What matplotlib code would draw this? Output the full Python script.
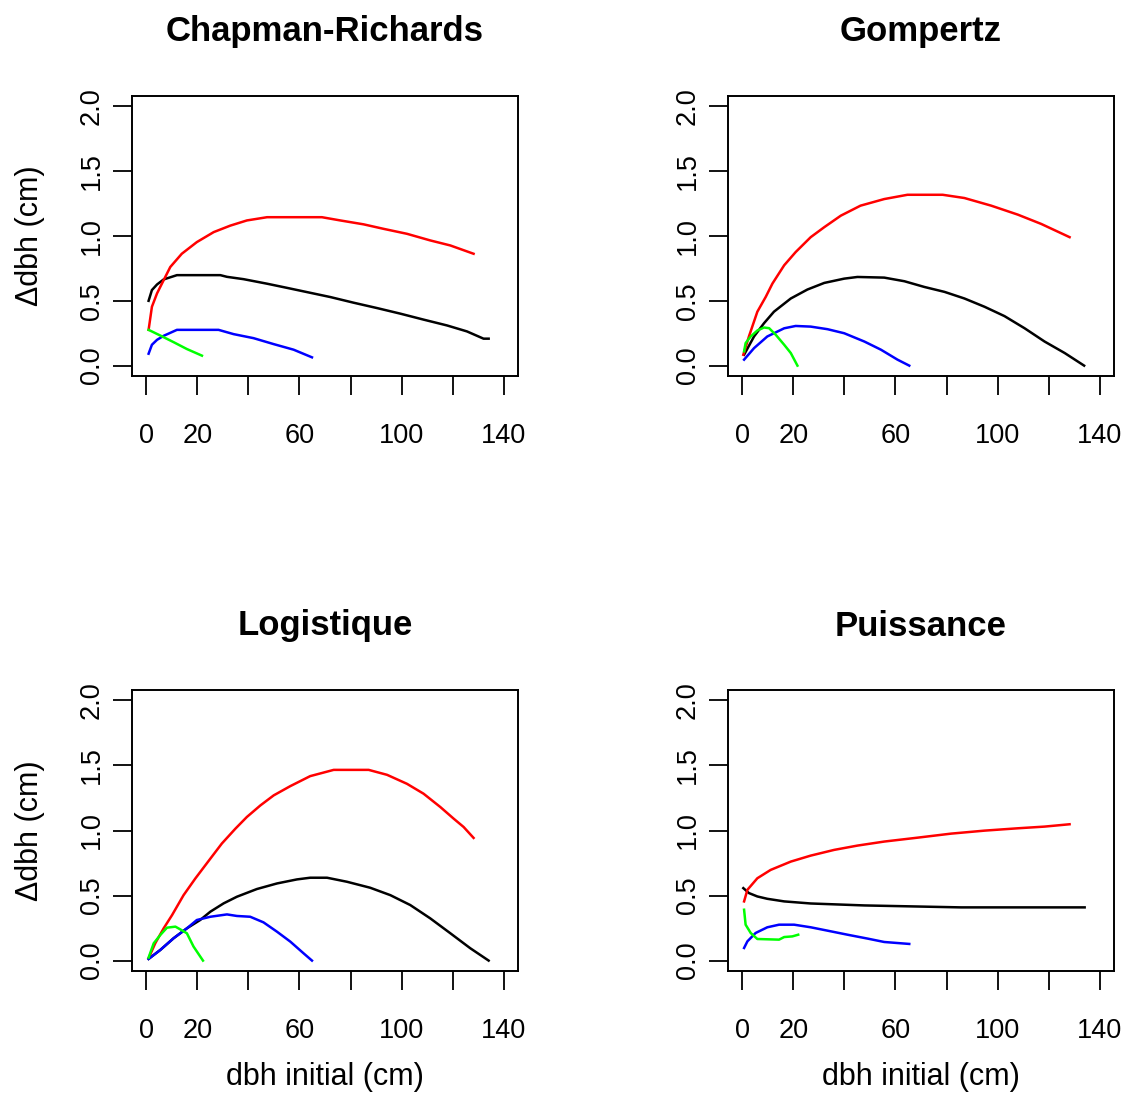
import matplotlib
matplotlib.use("Agg")
import matplotlib.pyplot as plt

plt.rcParams['font.family'] = ['Liberation Sans', 'DejaVu Sans']

# Values (dbh initial in cm, delta dbh in cm)

# Chapman-Richards
cr_black_x = [0.9, 2.2, 4.2, 6.8, 12.0, 29.0, 31.6, 38.1, 47.3, 55.1, 63.0, 72.1, 81.3, 90.4, 99.5, 108.6, 117.8, 125.6, 132.1, 134.1]
cr_black_y = [0.50, 0.583, 0.626, 0.665, 0.698, 0.698, 0.685, 0.667, 0.632, 0.60, 0.567, 0.529, 0.485, 0.444, 0.401, 0.355, 0.31, 0.264, 0.208, 0.208]
cr_red_x = [0.9, 2.2, 4.2, 6.1, 9.4, 13.9, 19.8, 26.4, 32.9, 39.4, 47.3, 68.8, 76.0, 85.1, 93.0, 102.1, 111.2, 119.1, 128.2]
cr_red_y = [0.276, 0.454, 0.557, 0.632, 0.761, 0.863, 0.953, 1.03, 1.08, 1.12, 1.145, 1.145, 1.12, 1.09, 1.055, 1.017, 0.966, 0.927, 0.863]
cr_blue_x = [0.9, 2.2, 4.2, 6.8, 12.0, 28.3, 34.2, 42.0, 49.9, 57.7, 64.9]
cr_blue_y = [0.092, 0.161, 0.199, 0.23, 0.276, 0.276, 0.243, 0.212, 0.166, 0.123, 0.064]
cr_green_x = [0.9, 5.5, 10.7, 15.9, 21.8]
cr_green_y = [0.276, 0.232, 0.181, 0.128, 0.077]

# Gompertz
go_black_x = [0.7, 4.6, 8.5, 12.4, 19.0, 25.5, 32.1, 39.9, 45.1, 55.6, 63.5, 71.3, 79.2, 87.0, 94.9, 102.7, 110.6, 118.4, 126.3, 133.9]
go_black_y = [0.084, 0.225, 0.327, 0.416, 0.518, 0.587, 0.638, 0.671, 0.684, 0.679, 0.651, 0.607, 0.569, 0.518, 0.454, 0.382, 0.288, 0.186, 0.097, 0.0]
go_red_x = [0.4, 2.6, 5.9, 9.2, 11.8, 16.4, 20.9, 26.8, 32.1, 38.6, 46.3, 55.6, 64.7, 78.5, 87.0, 97.5, 107.9, 117.1, 128.2]
go_red_y = [0.084, 0.225, 0.416, 0.531, 0.633, 0.774, 0.876, 0.991, 1.068, 1.157, 1.234, 1.285, 1.318, 1.318, 1.293, 1.234, 1.165, 1.093, 0.991]
go_blue_x = [0.7, 4.6, 9.8, 16.4, 20.9, 26.8, 33.4, 39.9, 47.8, 54.3, 60.8, 65.4]
go_blue_y = [0.046, 0.135, 0.225, 0.288, 0.306, 0.301, 0.281, 0.25, 0.186, 0.123, 0.046, 0.0]
go_green_x = [0.7, 1.3, 3.3, 5.9, 8.5, 10.5, 13.1, 16.4, 19.0, 21.6]
go_green_y = [0.11, 0.174, 0.225, 0.271, 0.294, 0.289, 0.238, 0.161, 0.097, 0.0]

# Logistique
lo_black_x = [0.9, 5.5, 10.7, 15.9, 21.1, 25.1, 30.3, 35.5, 43.3, 51.2, 59.0, 64.2, 70.8, 78.6, 87.7, 95.6, 103.4, 111.2, 119.1, 126.9, 134.1]
lo_black_y = [0.013, 0.082, 0.172, 0.248, 0.312, 0.376, 0.44, 0.491, 0.55, 0.593, 0.624, 0.637, 0.637, 0.606, 0.56, 0.503, 0.427, 0.325, 0.21, 0.095, 0.0]
lo_red_x = [0.9, 3.5, 6.8, 10.1, 14.6, 19.2, 25.1, 29.6, 34.9, 39.4, 44.7, 49.9, 56.4, 64.2, 73.4, 87.1, 94.3, 102.1, 108.6, 115.2, 120.4, 124.3, 128.2]
lo_red_y = [0.018, 0.133, 0.248, 0.35, 0.503, 0.631, 0.784, 0.9, 1.014, 1.104, 1.193, 1.27, 1.341, 1.418, 1.466, 1.466, 1.428, 1.359, 1.283, 1.18, 1.091, 1.027, 0.943]
lo_blue_x = [0.9, 5.5, 10.7, 15.9, 19.8, 25.1, 31.6, 35.5, 40.7, 45.9, 51.2, 56.4, 61.6, 64.9]
lo_blue_y = [0.013, 0.082, 0.172, 0.248, 0.312, 0.337, 0.355, 0.343, 0.337, 0.294, 0.222, 0.146, 0.056, 0.0]
lo_green_x = [0.9, 2.9, 5.5, 8.1, 11.4, 13.3, 15.9, 18.5, 22.2]
lo_green_y = [0.023, 0.133, 0.197, 0.253, 0.261, 0.24, 0.21, 0.108, 0.0]

# Puissance
pu_black_x = [0.4, 2.6, 5.9, 9.8, 16.4, 26.8, 47.8, 85.7, 134.1]
pu_black_y = [0.557, 0.519, 0.493, 0.475, 0.455, 0.439, 0.424, 0.409, 0.409]
pu_red_x = [0.7, 2.0, 5.9, 11.1, 19.0, 26.8, 36.0, 45.1, 55.6, 68.7, 81.8, 94.9, 107.9, 118.4, 128.2]
pu_red_y = [0.455, 0.544, 0.633, 0.697, 0.761, 0.807, 0.851, 0.884, 0.915, 0.945, 0.976, 0.999, 1.017, 1.03, 1.048]
pu_blue_x = [0.7, 2.0, 5.2, 9.8, 14.4, 20.3, 26.8, 33.4, 41.2, 49.1, 55.6, 65.4]
pu_blue_y = [0.097, 0.148, 0.212, 0.256, 0.276, 0.276, 0.256, 0.23, 0.199, 0.169, 0.143, 0.128]
pu_green_x = [0.7, 1.3, 3.3, 5.9, 14.4, 16.4, 19.6, 21.9]
pu_green_y = [0.391, 0.276, 0.212, 0.166, 0.161, 0.181, 0.186, 0.199]

titles = ["Chapman-Richards", "Gompertz", "Logistique", "Puissance"]
x_ticks = [0, 20, 40, 60, 80, 100, 120, 140]
x_ticklabels = ["0", "20", "", "60", "", "100", "", "140"]
y_ticks = [0.0, 0.5, 1.0, 1.5, 2.0]
y_ticklabels = ["0.0", "0.5", "1.0", "1.5", "2.0"]

panels = [
    [(cr_black_x, cr_black_y, "black"), (cr_red_x, cr_red_y, "#ff0000"),
     (cr_blue_x, cr_blue_y, "#0000ff"), (cr_green_x, cr_green_y, "#00ff00")],
    [(go_black_x, go_black_y, "black"), (go_red_x, go_red_y, "#ff0000"),
     (go_blue_x, go_blue_y, "#0000ff"), (go_green_x, go_green_y, "#00ff00")],
    [(lo_black_x, lo_black_y, "black"), (lo_red_x, lo_red_y, "#ff0000"),
     (lo_blue_x, lo_blue_y, "#0000ff"), (lo_green_x, lo_green_y, "#00ff00")],
    [(pu_black_x, pu_black_y, "black"), (pu_red_x, pu_red_y, "#ff0000"),
     (pu_blue_x, pu_blue_y, "#0000ff"), (pu_green_x, pu_green_y, "#00ff00")],
]

W, H = 1126, 1093
fig = plt.figure(figsize=(W / 100, H / 100), dpi=100)

# axes boxes in pixels: left, top, right, bottom
boxes = [(132, 96, 518, 376), (728, 96, 1114, 376),
         (132, 690, 518, 971), (728, 690, 1114, 971)]

for i, (l, t, r, b) in enumerate(boxes):
    ax = fig.add_axes([l / W, 1 - b / H, (r - l) / W, (b - t) / H])
    for xs, ys, col in panels[i]:
        ax.plot(xs, ys, color=col, lw=1.8)
    ax.set_xlim(-5.6, 145.6)
    ax.set_ylim(-0.08, 2.08)
    ax.set_xticks(x_ticks)
    ax.set_xticklabels(x_ticklabels)
    ax.set_yticks(y_ticks)
    ax.set_yticklabels(y_ticklabels, rotation=90, va="center")
    ax.tick_params(axis="both", direction="out", length=13.5, width=1.3,
                   labelsize=19.5)
    ax.tick_params(axis="x", pad=20)
    ax.tick_params(axis="y", pad=6)
    for sp in ax.spines.values():
        sp.set_linewidth(1.4)
    ax.text(0.5, 1 + 64 / (b - t), titles[i], transform=ax.transAxes,
            ha="center", va="center", fontsize=25, fontweight="bold")
    if i % 2 == 0:
        ax.text(-102 / (r - l), 0.5, "\u0394dbh (cm)", transform=ax.transAxes,
                ha="center", va="center", rotation=90, fontsize=22)
    if i >= 2:
        ax.text(0.5, -106 / (b - t), "dbh initial (cm)", transform=ax.transAxes,
                ha="center", va="center", fontsize=22)

fig.savefig("out.png", dpi=100)
